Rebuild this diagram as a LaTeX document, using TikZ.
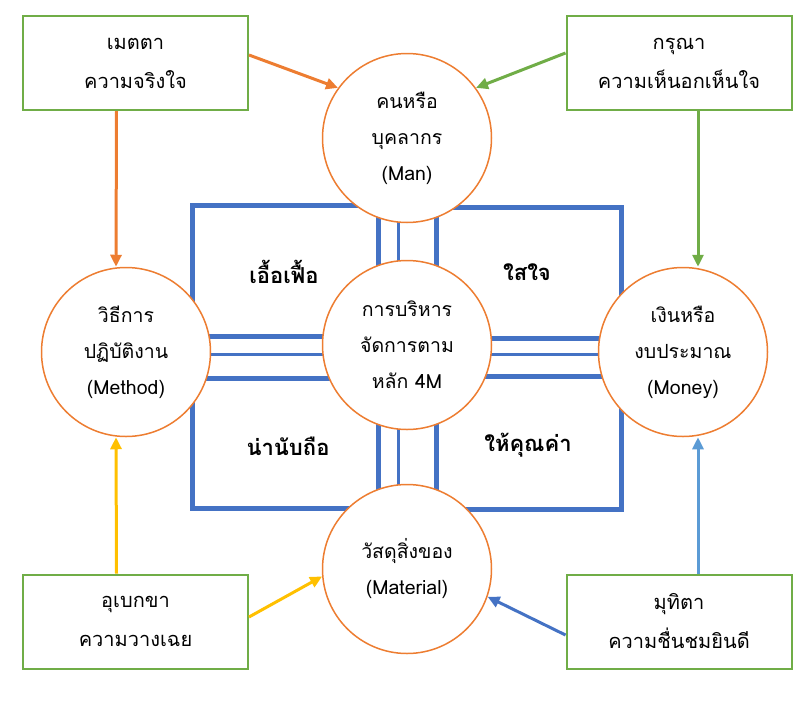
\documentclass[tikz,border=0pt]{standalone}
\usepackage{fontspec}
\newfontfamily\thaifont[Script=Thai]{Loma}
\usetikzlibrary{arrows.meta}
\definecolor{cOrange}{HTML}{ED7D31}
\definecolor{cGreen}{HTML}{70AD47}
\definecolor{cYellow}{HTML}{FFC000}
\definecolor{cBlue}{HTML}{4472C4}
\definecolor{cLBlue}{HTML}{5B9BD5}
\begin{document}
\begin{tikzpicture}[x=1pt,y=-1pt,
  circ/.style={circle,draw=cOrange,line width=1.5pt,fill=white,minimum size=169pt,inner sep=0pt,align=center,font=\thaifont\fontsize{19.5}{36}\selectfont},
  vbox/.style={rectangle,draw=cGreen,line width=2pt,fill=white,minimum width=225pt,minimum height=94pt,inner sep=0pt,align=center,font=\thaifont\fontsize{20}{39}\selectfont},
  quad/.style={inner sep=1pt,font=\thaifont\bfseries\fontsize{22}{26}\selectfont},
  frame/.style={draw=cBlue,line width=5pt},
  road/.style={draw=cBlue,line width=3pt},
  arr/.style={line width=3pt,-{Triangle[length=12pt,width=11pt]}}
]
\useasboundingbox (0,0) rectangle (812,705);
% coordinates for the frame
\coordinate (tl1) at (192,205); \coordinate (tl2) at (378,336);
\coordinate (tr1) at (436,207); \coordinate (tr2) at (621,338);
\coordinate (bl1) at (192,378); \coordinate (bl2) at (378,508);
\coordinate (br1) at (436,376); \coordinate (br2) at (621,509);
\coordinate (vtop) at (398,160); \coordinate (vbot) at (398,540);
\coordinate (hl) at (150,354); \coordinate (hr) at (660,354);
% frame squares
\draw[frame] (tl1) rectangle (tl2);
\draw[frame] (tr1) rectangle (tr2);
\draw[frame] (bl1) rectangle (bl2);
\draw[frame] (br1) rectangle (br2);
% road middle lines
\draw[road] (vtop) -- (vbot);
\draw[road] (hl) -- (hr);
% quadrant labels
\node[quad] (q1) at (284,272) {เอื้อเฟื้อ};
\node[quad] (q2) at (527,272) {ใสใจ};
\node[quad] (q3) at (288,446) {น่านับถือ};
\node[quad] (q4) at (528,445) {ให้คุณค่า};
% circles
\node[circ] (man) at (407,138) {คนหรือ\\บุคลากร\\(Man)};
\node[circ] (core) at (407,345) {การบริหาร\\จัดการตาม\\หลัก 4M};
\node[circ] (method) at (126,352) {วิธีการ\\ปฏิบัติงาน\\(Method)};
\node[circ] (money) at (683,352) {เงินหรือ\\งบประมาณ\\(Money)};
\node[circ] (material) at (407,569) {วัสดุสิ่งของ\\(Material)};
% boxes
\node[vbox] (metta) at (135.5,63) {เมตตา\\ความจริงใจ};
\node[vbox] (karuna) at (679,63) {กรุณา\\ความเห็นอกเห็นใจ};
\node[vbox] (ubekkha) at (135.5,621.5) {อุเบกขา\\ความวางเฉย};
\node[vbox] (mudita) at (679,621.5) {มุทิตา\\ความชื่นชมยินดี};
% arrows
\draw[arr,cOrange] ([yshift=8pt]metta.east) -- (man.144);
\draw[arr,cOrange] ([xshift=-19pt]metta.south) -- ([xshift=-10pt]method.north);
\draw[arr,cGreen] ([yshift=10pt]karuna.west) -- (man.36);
\draw[arr,cGreen] ([xshift=19pt]karuna.south) -- ([xshift=15pt]money.north);
\draw[arr,cYellow] ([xshift=-19pt]ubekkha.north) -- ([xshift=-10pt]method.south);
\draw[arr,cYellow] ([yshift=4.5pt]ubekkha.east) -- (material.185);
\draw[arr,cBlue] ([yshift=-13.5pt]mudita.west) -- (material.341);
\draw[arr,cLBlue] ([xshift=19pt]mudita.north) -- ([xshift=15pt]money.south);
\end{tikzpicture}
\end{document}
